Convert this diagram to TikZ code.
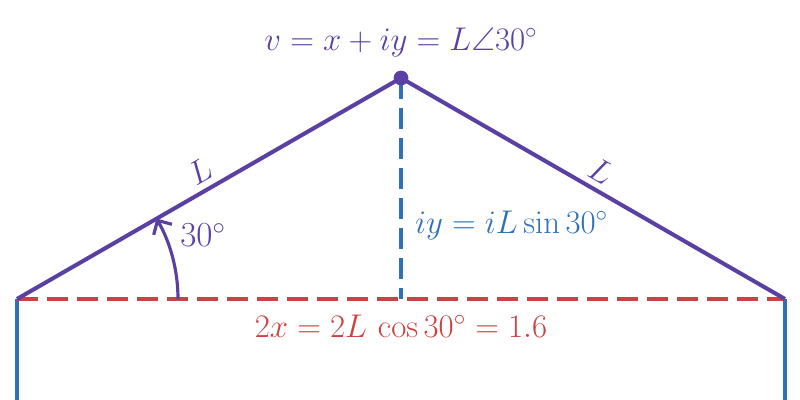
\documentclass[tikz,border=0pt]{standalone}
\usepackage{fix-cm}
\usepackage{amssymb,amsmath}
\usetikzlibrary{arrows.meta}
\definecolor{vpurple}{RGB}{91,64,163}
\definecolor{vblue}{RGB}{48,112,182}
\definecolor{vred}{RGB}{203,66,66}

\begin{document}
\begin{tikzpicture}[join=round,
    side/.style={vpurple,line width=2.3pt},
    wall/.style={vblue,line width=2pt},
    cut/.style={line width=2pt,dash pattern=on 0.42cm off 0.18cm},
    lbl/.style={font=\fontsize{18.7}{22}\selectfont}]
       \useasboundingbox (0,0) rectangle (16,8);
       % points of the roof
       \coordinate (lft) at (0.34,2.02);
       \coordinate (top) at (8.02,6.44);
       \coordinate (rgt) at (15.70,2.02);
       \coordinate (foot) at (8.02,2.02);
       \coordinate (lbot) at (0.34,0);
       \coordinate (rbot) at (15.70,0);
       % walls and guides
       \draw[wall] (lft)--(lbot);
       \draw[wall] (rgt)--(rbot);
       \draw[cut,vred] (lft)--(rgt);
       \draw[cut,vblue] (top)--(foot);
       % sides
       \draw[side] (lft)--(top)--(rgt);
       \filldraw[vpurple] (top) circle (0.14);
       \draw[vpurple,line width=1.8pt,-{Straight Barb[length=6pt,width=12pt]}]
                (lft) ++(3.22,0) arc (0:30:3.22);
       % labels
       \node[lbl,vpurple] (vlab) at (8.02,7.16) {$v = x + iy = L\angle 30^\circ$};
       \node[lbl,vpurple,rotate=30] (ll) at (4.0,4.58) {$L$};
       \node[lbl,vpurple,rotate=-30] (lr) at (12.02,4.58) {$L$};
       \node[lbl,vpurple,font=\fontsize{20}{24}\selectfont] (ang) at (4.06,3.3) {$30^\circ$};
       \node[lbl,vblue,anchor=west] (ylab) at (8.18,3.5) {$iy = iL\sin 30^\circ$};
       \node[lbl,vred] (xlab) at (8.02,1.48) {$2x = 2L\,\cos 30^\circ = 1.6$};
\end{tikzpicture}
\end{document}
